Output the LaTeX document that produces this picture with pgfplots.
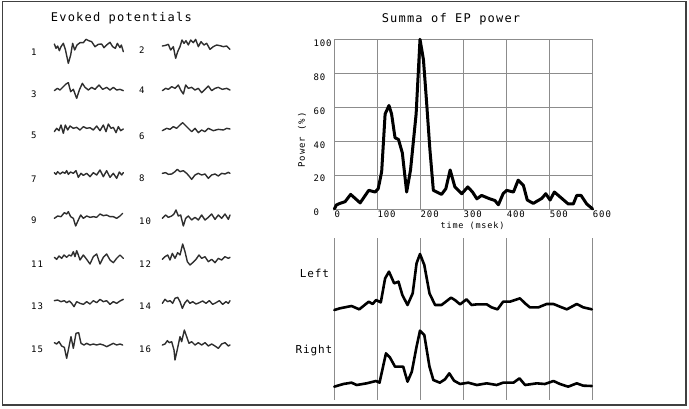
\documentclass[border=0pt]{standalone}
\usepackage{pgfplots}
\pgfplotsset{compat=1.18}
\usepackage{fontspec}
\newfontfamily\pix{DejaVu Sans Mono}[LetterSpace=10]
\newfontfamily\pixb{DejaVu Sans Mono}[LetterSpace=8]
\newcommand\titlefont{\pix\fontsize{12pt}{14pt}\selectfont}
\newcommand\tickfont{\pix\fontsize{9pt}{10pt}\selectfont}
\newcommand\smallfont{\pix\fontsize{8.5pt}{10pt}\selectfont}
\newcommand\lrfont{\pixb\fontsize{11pt}{12pt}\selectfont}
\definecolor{gridgray}{HTML}{8C8C8C}
\definecolor{framegray}{HTML}{404040}
\definecolor{tracegray}{HTML}{2E2E2E}
\tikzset{numlab/.style={font=\tickfont, anchor=west, inner sep=0pt},
  trace/.style={tracegray, line width=1.4pt, line join=round, line cap=round, mark=none, solid},
  bigtrace/.style={black, line width=2.6pt, line join=round, line cap=round, mark=none, solid}}
\begin{document}
\begin{tikzpicture}[x=1pt,y=1pt]
\useasboundingbox (0,0) rectangle (689,408);
% ---------- overlay axis (units: third of a pixel, y downwards) ----------
\begin{axis}[at={(0pt,0pt)}, anchor=south west, scale only axis,
  width=689pt, height=408pt, xmin=0, xmax=2067, ymin=0, ymax=1224,
  y dir=reverse, hide axis, clip=false]
\draw[framegray, line width=1.6pt] (axis cs:7.5,4.5) rectangle (axis cs:2058,1215);
\node[font=\titlefont] at (axis cs:364,55) {Evoked potentials};
\node[font=\titlefont] at (axis cs:1353,57) {Summa of EP power};
\node[font=\lrfont] at (axis cs:943,820) {Left};
\node[font=\lrfont] at (axis cs:942,1050) {Right};
\node[numlab] at (axis cs:93,156) {1};
\node[numlab] at (axis cs:417,150) {2};
\node[numlab] at (axis cs:93,283) {3};
\node[numlab] at (axis cs:417,270) {4};
\node[numlab] at (axis cs:93,405) {5};
\node[numlab] at (axis cs:417,410) {6};
\node[numlab] at (axis cs:93,537) {7};
\node[numlab] at (axis cs:417,535) {8};
\node[numlab] at (axis cs:93,662) {9};
\node[numlab] at (axis cs:417,665) {10};
\node[numlab] at (axis cs:93,792) {11};
\node[numlab] at (axis cs:417,792) {12};
\node[numlab] at (axis cs:93,918) {13};
\node[numlab] at (axis cs:417,918) {14};
\node[numlab] at (axis cs:93,1047) {15};
\node[numlab] at (axis cs:417,1047) {16};
% trace 1
\addplot[trace] coordinates {(163,132)(168,145)(173,138)(178,152)(183,140)(190,130)(196,148)(205,190)(212,165)(218,130)(224,150)(231,135)(240,128)(250,128)(258,118)(266,122)(275,125)(285,140)(295,133)(305,132)(312,143)(320,135)(330,127)(338,140)(346,145)(352,130)(360,143)(364,135)(370,155)};
% trace 2
\addplot[trace] coordinates {(487,138)(497,136)(505,133)(512,150)(520,140)(527,175)(533,155)(540,140)(546,120)(552,130)(558,122)(565,135)(572,120)(580,128)(587,118)(595,140)(603,125)(612,135)(620,130)(630,148)(640,140)(650,135)(660,137)(670,140)(680,138)(690,148)};
% trace 3
\addplot[trace] coordinates {(163,272)(172,265)(180,270)(190,260)(198,252)(205,248)(212,275)(220,268)(230,295)(238,270)(247,250)(255,262)(265,270)(275,262)(285,268)(297,255)(308,268)(320,262)(330,270)(340,262)(350,270)(360,268)(370,272)};
% trace 4
\addplot[trace] coordinates {(487,272)(497,265)(505,268)(515,260)(525,265)(535,255)(542,270)(550,282)(557,255)(565,265)(575,262)(585,270)(595,265)(605,278)(615,268)(625,258)(635,272)(645,265)(655,262)(667,268)(680,265)(690,270)};
% trace 5
\addplot[trace] coordinates {(163,395)(170,385)(177,392)(183,375)(190,400)(196,375)(203,390)(210,378)(220,385)(230,382)(240,390)(250,380)(260,385)(270,383)(280,390)(290,378)(300,392)(310,375)(318,395)(325,372)(333,385)(340,382)(348,398)(355,380)(362,392)(370,387)};
% trace 6
\addplot[trace] coordinates {(487,392)(500,385)(510,388)(520,380)(530,385)(540,375)(548,368)(555,375)(565,385)(575,395)(585,385)(595,398)(605,390)(615,395)(625,385)(640,392)(655,388)(670,390)(680,385)(690,387)};
% trace 7
\addplot[trace] coordinates {(163,518)(168,523)(173,515)(180,522)(188,516)(195,520)(200,512)(205,523)(212,516)(220,520)(228,512)(235,532)(243,520)(250,526)(260,520)(270,530)(280,518)(290,525)(300,510)(310,530)(320,512)(330,532)(340,520)(350,535)(358,516)(365,525)(370,518)};
% trace 8
\addplot[trace] coordinates {(487,520)(497,518)(505,523)(515,522)(525,515)(532,508)(540,515)(550,512)(560,520)(567,528)(575,538)(585,525)(595,520)(605,525)(615,522)(625,535)(635,525)(645,522)(655,528)(665,520)(675,522)(685,517)(690,520)};
% trace 9
\addplot[trace] coordinates {(163,655)(173,648)(183,650)(193,638)(200,642)(205,635)(212,650)(220,655)(227,678)(235,660)(242,645)(250,655)(260,648)(270,652)(280,650)(290,652)(300,642)(310,647)(320,645)(330,650)(340,650)(350,655)(360,648)(368,640)};
% trace 10
\addplot[trace] coordinates {(487,655)(497,645)(505,652)(515,648)(522,642)(528,630)(535,648)(542,645)(550,678)(557,655)(565,648)(575,660)(585,652)(595,660)(605,645)(615,660)(625,652)(635,642)(645,658)(655,645)(665,655)(675,642)(685,658)(690,645)};
% trace 11
\addplot[trace] coordinates {(163,772)(170,778)(177,768)(185,775)(192,765)(200,772)(207,765)(214,768)(220,755)(225,770)(230,752)(235,765)(240,780)(250,765)(260,778)(270,792)(280,770)(290,762)(300,792)(310,772)(320,762)(330,780)(340,788)(350,775)(360,765)(370,775)};
% trace 12
\addplot[trace] coordinates {(487,778)(495,770)(503,765)(510,780)(517,760)(525,775)(533,758)(540,765)(548,732)(555,755)(562,785)(570,795)(578,788)(588,778)(597,765)(605,775)(615,770)(625,785)(635,778)(645,788)(655,775)(665,780)(675,770)(685,775)(690,772)};
% trace 13
\addplot[trace] coordinates {(163,902)(173,900)(183,905)(193,902)(200,908)(208,903)(215,910)(222,920)(230,905)(240,910)(250,913)(260,905)(270,912)(280,902)(290,908)(300,898)(310,905)(320,902)(330,913)(340,905)(350,910)(360,903)(370,898)};
% trace 14
\addplot[trace] coordinates {(487,910)(495,898)(503,905)(510,902)(518,910)(525,895)(533,892)(540,905)(547,925)(555,908)(562,900)(570,910)(578,905)(588,912)(598,908)(608,903)(618,910)(628,902)(638,913)(648,908)(658,902)(668,913)(678,905)(685,910)(690,902)};
% trace 15
\addplot[trace] coordinates {(163,1028)(170,1032)(177,1025)(185,1038)(193,1042)(200,1075)(207,1040)(213,1010)(220,1045)(228,1000)(236,998)(243,1030)(252,1035)(260,1030)(270,1035)(280,1032)(290,1035)(300,1032)(310,1035)(320,1040)(330,1035)(340,1030)(350,1035)(360,1032)(368,1035)};
% trace 16
\addplot[trace] coordinates {(487,1035)(495,1032)(502,1022)(508,1028)(515,1025)(522,1050)(525,1080)(532,1048)(540,1010)(545,1025)(553,990)(560,1010)(567,1030)(575,1025)(585,1035)(595,1028)(605,1035)(615,1028)(625,1038)(635,1032)(645,1038)(655,1045)(665,1032)(675,1028)(685,1038)(690,1035)};
\end{axis}
% ---------- main power chart ----------
\begin{axis}[at={(334.3pt,199pt)}, anchor=south west, scale only axis,
  width=258.4pt, height=169.7pt, xmin=0, xmax=600, ymin=0, ymax=100,
  xtick={0,100,...,600}, ytick={0,20,...,100},
  grid=major, grid style={gridgray, line width=0.7pt},
  axis line style={gridgray, line width=0.7pt},
  major tick length=0pt,
  /pgf/number format/assume math mode=true,
  tick label style={font=\tickfont},
  xticklabel style={anchor=north west, inner sep=0pt, yshift=-2pt},
  yticklabel style={anchor=north west, inner sep=0pt, xshift=-21pt},
  xlabel={time (msek)},
  xlabel style={at={(axis description cs:0.535,0)}, anchor=center, yshift=-17pt, font=\smallfont},
  ylabel={Power (\%)},
  ylabel style={at={(axis description cs:-0.125,0.407)}, anchor=center, font=\tickfont},
  clip=false]
\addplot[bigtrace, line width=3pt] coordinates {
(0,0)(5,2.4)(13,3.3)(25,4.3)(38,8.6)(60,3.6)(80,11)(95,10)(102,12)(110,22)(118,56)(127,61)(133,56)(141,42)(149,41)(158,33)(168,10)(177,23)(190,56)(199,100)(207,88)(214,64)(222,35)(230,11)(249,8.6)(259,12)(269,23)(280,13)(296,9)(310,13)(321,10)(331,6)(342,8)(361,6)(373,5)(381,2.5)(392,9)(400,11)(416,10)(427,17)(439,14)(448,5.3)(462,3.3)(482,6.3)(491,9)(501,5.3)(511,10)(528,6.3)(543,3)(555,3)(563,8)(573,8)(586,3)(600,0)};
\end{axis}
% ---------- Left / Right panel ----------
\begin{axis}[at={(334.3pt,8pt)}, anchor=south west, scale only axis,
  width=258.4pt, height=162pt, xmin=0, xmax=600, ymin=54, ymax=540,
  y dir=reverse, xtick={0,100,...,600}, ytick=\empty, xticklabels={},
  xmajorgrids, grid style={gridgray, line width=0.7pt},
  axis line style={draw=none}, major tick length=0pt, clip=false]
\addplot[bigtrace] coordinates {
(0,270)(13,265)(40,258)(58,268)(80,245)(89,252)(97,240)(108,247)(118,175)(127,155)(139,190)(149,185)(158,225)(170,255)(182,220)(191,130)(199,102)(209,135)(221,220)(234,255)(249,255)(259,245)(271,233)(280,240)(292,253)(307,238)(319,255)(331,253)(354,253)(365,262)(379,268)(392,245)(408,245)(431,235)(443,250)(454,262)(474,262)(493,252)(509,252)(524,260)(540,268)(563,252)(578,262)(598,268)};
\addplot[bigtrace] coordinates {
(0,500)(21,492)(40,488)(52,495)(75,490)(97,483)(105,488)(120,400)(129,412)(141,440)(160,440)(170,485)(180,455)(191,380)(199,332)(209,345)(221,440)(230,480)(245,488)(257,478)(267,460)(278,482)(292,492)(311,488)(331,495)(354,490)(377,495)(392,488)(416,488)(430,475)(443,495)(470,490)(489,492)(509,483)(524,492)(543,500)(563,490)(578,497)(598,498)};
\end{axis}
\end{tikzpicture}
\end{document}
